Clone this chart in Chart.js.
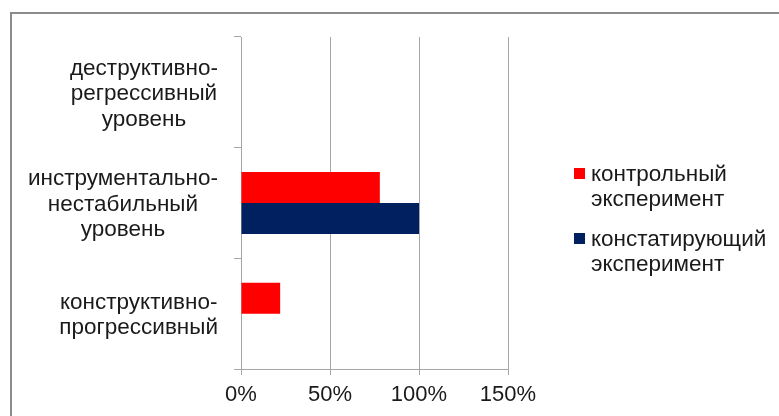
<!DOCTYPE html>
<html>
<head>
<meta charset="utf-8">
<script src="https://cdn.jsdelivr.net/npm/chart.js@4"></script>
<style>
  html, body { margin: 0; padding: 0; background: #fff; }
  #wrap { width: 779px; height: 416px; position: relative; }
</style>
</head>
<body>
<div id="wrap"><canvas id="levelsChart"></canvas></div>
<script>
// categories (top to bottom), split into lines as in the original
const categories = [
  ['деструктивно-', 'регрессивный', 'уровень'],
  ['инструментально-', 'нестабильный', 'уровень'],
  ['конструктивно-', 'прогрессивный']
];
const seriesNames = ['контрольный эксперимент', 'констатирующий эксперимент'];
const controlValues = [0, 78, 22];     // %
const ascertainValues = [0, 100, 0];   // %
const xTicks = [0, 50, 100, 150];

const FONT = '"Liberation Sans", Arial, sans-serif';
const colors = ['#ff0000', '#002060'];

// grey frame around the whole chart (cut off at right/bottom)
const framePlugin = {
  id: 'frame',
  beforeDraw(chart) {
    const ctx = chart.ctx;
    ctx.save();
    ctx.strokeStyle = '#8c8c8c';
    ctx.lineWidth = 2;
    ctx.strokeRect(11, 13, 900, 600);
    ctx.restore();
  }
};

// category labels: each block centred in itself, blocks right-aligned
const catLabels = {
  id: 'catLabels',
  afterDraw(chart) {
    const ctx = chart.ctx;
    const yScale = chart.scales.y;
    const rightEdge = yScale.right - 23;
    ctx.save();
    ctx.font = '22.5px ' + FONT;
    ctx.fillStyle = '#1a1a1a';
    ctx.textAlign = 'center';
    ctx.textBaseline = 'middle';
    categories.forEach((lines, i) => {
      const cy = yScale.getPixelForValue(i) + 1.5;
      const w = Math.max(...lines.map(l => ctx.measureText(l).width));
      const cx = rightEdge - w / 2;
      lines.forEach((l, j) => {
        ctx.fillText(l, cx, cy + (j - (lines.length - 1) / 2) * 25.5);
      });
    });
    ctx.restore();
  }
};

// two-line legend on the right
const sideLegend = {
  id: 'sideLegend',
  afterDraw(chart) {
    const ctx = chart.ctx;
    ctx.save();
    ctx.font = '22.5px ' + FONT;
    ctx.textBaseline = 'middle';
    ctx.textAlign = 'left';
    chart.data.datasets.forEach((ds, i) => {
      const top = 175 + i * 65;
      ctx.fillStyle = ds.backgroundColor;
      ctx.fillRect(574, top - 7, 11, 11);
      ctx.fillStyle = '#1a1a1a';
      ds.label.split(' ').forEach((word, j) => {
        ctx.fillText(word, 591, top + j * 25);
      });
    });
    ctx.restore();
  }
};

const chart = new Chart(document.getElementById('levelsChart'), {
  type: 'bar',
  data: {
    labels: categories,
    datasets: [
      {
        label: seriesNames[0],
        data: controlValues,
        backgroundColor: colors[0],
        categoryPercentage: 0.56,
        barPercentage: 1.0
      },
      {
        label: seriesNames[1],
        data: ascertainValues,
        backgroundColor: colors[1],
        categoryPercentage: 0.56,
        barPercentage: 1.0
      }
    ]
  },
  options: {
    indexAxis: 'y',
    responsive: true,
    maintainAspectRatio: false,
    animation: false,
    layout: { padding: { top: 37, right: 271, bottom: 0, left: 0 } },
    plugins: {
      legend: { display: false },
      tooltip: { enabled: false }
    },
    scales: {
      x: {
        min: xTicks[0],
        max: xTicks[xTicks.length - 1],
        afterBuildTicks(scale) {
          scale.ticks = xTicks.map(v => ({ value: v }));
        },
        afterFit(scale) { scale.height = 47; },
        grid: { color: '#a6a6a6', lineWidth: 1, tickLength: 6 },
        border: { color: '#a6a6a6' },
        ticks: {
          padding: 7,
          color: '#1a1a1a',
          font: { family: FONT, size: 22 },
          callback: v => v + '%'
        }
      },
      y: {
        afterFit(scale) { scale.width = 241; },
        grid: {
          drawOnChartArea: false,
          drawTicks: true,
          tickLength: 7,
          color: '#a6a6a6'
        },
        border: { color: '#a6a6a6' },
        ticks: { display: false }
      }
    }
  },
  plugins: [framePlugin, catLabels, sideLegend]
});
</script>
</body>
</html>
